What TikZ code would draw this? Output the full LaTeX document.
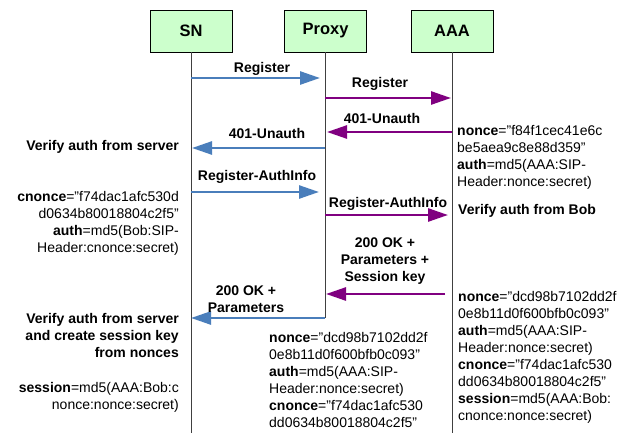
\documentclass[tikz,border=0pt]{standalone}
\usepackage{fontspec}
\setmainfont{Liberation Sans}
\usetikzlibrary{arrows.meta}
\definecolor{boxgreen}{HTML}{CCFFCC}
\definecolor{msgblue}{HTML}{4A7EBB}
\definecolor{msgpurple}{HTML}{800080}
\definecolor{lifegray}{HTML}{404040}
\begin{document}
\begin{tikzpicture}[x=1pt,y=-1pt,
  actor/.style={draw=black,line width=0.8pt,fill=boxgreen,minimum width=82pt,minimum height=42pt,
    font=\fontsize{16.5}{20}\selectfont\bfseries,inner sep=0},
  life/.style={draw=lifegray,line width=1pt},
  bluemsg/.style={draw=msgblue,line width=2.6pt,-{Triangle[length=20pt,width=13pt]}},
  purplemsg/.style={draw=msgpurple,line width=2.6pt,-{Triangle[length=20pt,width=13pt]}},
  lbl/.style={font=\fontsize{14}{17}\selectfont\bfseries,inner sep=0,align=center},
  note/.style={font=\fontsize{14}{17}\selectfont,inner sep=0}
]
\useasboundingbox (0,0) rectangle (636,433);
\fill[white] (0,0) rectangle (636,433);

% actors
\node[actor] (sn) at (191,31) {SN};
\node[actor] (proxy) at (325.5,31) {Proxy};
\node[actor] (aaa) at (452,31) {AAA};

% lifeline ends
\coordinate (snend) at (191,433);
\coordinate (proxyend) at (325,318);
\coordinate (aaaend) at (452,433);
\draw[life] (sn.south) -- (snend);
\draw[life] (proxy.south -| proxyend) -- (proxyend);
\draw[life] (aaa.south) -- (aaaend);

% message end points
\coordinate (m1a) at (191,78);  \coordinate (m1b) at (320,78);
\coordinate (m2a) at (325,98);  \coordinate (m2b) at (451,98);
\coordinate (m3a) at (452,132); \coordinate (m3b) at (327,132);
\coordinate (m4a) at (325,148); \coordinate (m4b) at (192,148);
\coordinate (m5a) at (191,192); \coordinate (m5b) at (319,192);
\coordinate (m6a) at (325,215); \coordinate (m6b) at (448,215);
\coordinate (m7a) at (445,294); \coordinate (m7b) at (326,294);
\coordinate (m8a) at (325,318); \coordinate (m8b) at (191,318);

\draw[bluemsg] (m1a) -- (m1b);
\draw[purplemsg] (m2a) -- (m2b);
\draw[purplemsg] (m3a) -- (m3b);
\draw[bluemsg] (m4a) -- (m4b);
\draw[bluemsg] (m5a) -- (m5b);
\draw[purplemsg] (m6a) -- (m6b);
\draw[purplemsg] (m7a) -- (m7b);
\draw[bluemsg] (m8a) -- (m8b);

% message labels
\node[lbl,anchor=base] (l1) at (262,73) {Register};
\node[lbl,anchor=base] (l2) at (380,88) {Register};
\node[lbl,anchor=base] (l3) at (382,123) {401-Unauth};
\node[lbl,anchor=base] (l4) at (267,138) {401-Unauth};
\node[lbl,anchor=base] (l5) at (257,180) {Register-AuthInfo};
\node[lbl,anchor=base] (l6) at (388,207) {Register-AuthInfo};
\node[lbl,anchor=north] (l7) at (385,237.5) {200 OK +\\Parameters +\\Session key};
\node[lbl,anchor=north] (l8) at (246,285.5) {200 OK +\\Parameters};

% SN side notes
\node[lbl,anchor=base east] (n1) at (179,150) {Verify auth from server};
\node[note,anchor=north east,align=right] (n2) at (179,191.5)
  {\textbf{cnonce}="f74dac1afc530d\\d0634b80018804c2f5"\\\textbf{auth}=md5(Bob:SIP-\\Header:cnonce:secret)};
\node[lbl,anchor=north east,align=right] (n3) at (179,313.5)
  {Verify auth from server\\and create session key\\from nonces};
\node[note,anchor=north east,align=right] (n4) at (179,382.5)
  {\textbf{session}=md5(AAA:Bob:c\\nonce:nonce:secret)};

% AAA side notes
\node[note,anchor=north west,align=left] (n5) at (457,125.5)
  {\textbf{nonce}="f84f1cec41e6c\\be5aea9c8e88d359”\\\textbf{auth}=md5(AAA:SIP-\\Header:nonce:secret)};
\node[lbl,anchor=base west] (n6) at (458,214) {Verify auth from Bob};
\node[note,anchor=north west,align=left] (n7) at (458,291.5)
  {\textbf{nonce}="dcd98b7102dd2f\\0e8b11d0f600bfb0c093"\\\textbf{auth}=md5(AAA:SIP-\\Header:nonce:secret)\\\textbf{cnonce}="f74dac1afc530\\dd0634b80018804c2f5"\\\textbf{session}=md5(AAA:Bob:\\cnonce:nonce:secret)};

% Proxy note
\node[note,anchor=north west,align=left] (n8) at (269,332.5)
  {\textbf{nonce}="dcd98b7102dd2f\\0e8b11d0f600bfb0c093"\\\textbf{auth}=md5(AAA:SIP-\\Header:nonce:secret)\\\textbf{cnonce}="f74dac1afc530\\dd0634b80018804c2f5”};
\end{tikzpicture}
\end{document}
